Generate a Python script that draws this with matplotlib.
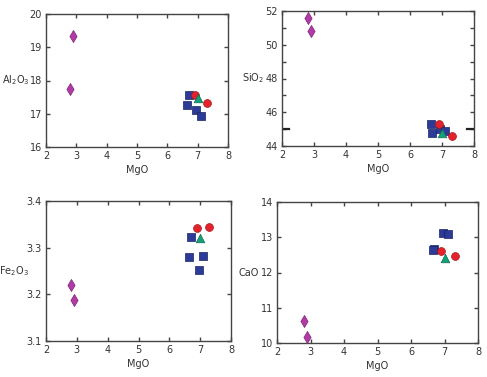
import matplotlib
matplotlib.use("Agg")
import matplotlib.pyplot as plt
from matplotlib.ticker import MultipleLocator

# MgO values (x) per sample group
dia_x = [2.8, 2.9]
sq_x = [6.7, 6.65, 6.95, 7.1]
cir_x = [6.9, 7.3]
tri_x = [7.0]

# oxide values (y) per panel and group
al_dia = [17.75, 19.35]
al_sq = [17.57, 17.27, 17.12, 16.94]
al_cir = [17.57, 17.33]
al_tri = [17.46]

si_dia = [51.6, 50.8]
si_sq = [44.75, 45.3, 45.02, 44.86]
si_cir = [45.3, 44.6]
si_tri = [44.78]

fe_dia = [3.221, 3.188]
fe_sq = [3.323, 3.279, 3.253, 3.282]
fe_cir = [3.342, 3.344]
fe_tri = [3.321]

ca_dia = [10.63, 10.16]
ca_sq = [12.66, 12.64, 13.13, 13.08]
ca_cir = [12.60, 12.47]
ca_tri = [12.42]

W, H = 487, 377
fig = plt.figure(figsize=(W / 100, H / 100), dpi=100)


def box(l, r, t, b):
    return [l / W, 1 - b / H, (r - l) / W, (b - t) / H]


panels = [
    (box(46, 228, 14, 147), "Al$_2$O$_3$", al_dia, al_sq, al_cir, al_tri, (16, 20), 1, None),
    (box(282, 474, 11, 146), "SiO$_2$", si_dia, si_sq, si_cir, si_tri, (44, 52), 2, 1),
    (box(46, 231, 201, 341), "Fe$_2$O$_3$", fe_dia, fe_sq, fe_cir, fe_tri, (3.1, 3.4), 0.1, None),
    (box(277, 478, 202, 343), "CaO", ca_dia, ca_sq, ca_cir, ca_tri, (10, 14), 1, None),
]

edge = "#444444"
txt = "#333333"
for pos, lab, yd, ys, yc, yt, ylim, major, minor in panels:
    ax = fig.add_axes(pos)
    ax.scatter(dia_x, yd, marker="d", s=38, c="#b23aa6", edgecolors="#7a2a75", linewidths=0.5, zorder=3)
    ax.scatter(sq_x, ys, marker="s", s=40, c="#2d3b98", edgecolors="#1a2260", linewidths=0.5, zorder=3)
    ax.scatter(cir_x, yc, marker="o", s=32, c="#e5222b", edgecolors="#a01820", linewidths=0.5, zorder=4)
    ax.scatter(tri_x, yt, marker="^", s=38, c="#16a07a", edgecolors="#0d6a50", linewidths=0.5, zorder=4)
    ax.set_xlim(2, 8)
    ax.set_ylim(*ylim)
    ax.xaxis.set_major_locator(MultipleLocator(1))
    ax.yaxis.set_major_locator(MultipleLocator(major))
    if minor:
        ax.yaxis.set_minor_locator(MultipleLocator(minor))
        ax.tick_params(which="minor", direction="in", left=True, right=True, length=3, width=1, color=edge)
    ax.tick_params(which="major", direction="in", top=True, right=True, length=3, width=1,
                   color=edge, labelsize=7, pad=3, labelcolor=txt)
    for sp in ax.spines.values():
        sp.set_color(edge)
        sp.set_linewidth(1)
    ax.set_xlabel("MgO", fontsize=7, labelpad=3, color=txt)
    ax.set_ylabel(lab, fontsize=7, rotation=0, ha="right", va="center", color=txt)
    ax.yaxis.set_label_coords(-0.09, 0.5)
    if minor:
        # the heavier tick at 45 seen in the original
        ax.plot([0.0, 0.035], [45, 45], transform=ax.get_yaxis_transform(), color="#222222",
                lw=1.6, zorder=2)
        ax.plot([0.965, 1.0], [45, 45], transform=ax.get_yaxis_transform(), color="#222222",
                lw=1.6, zorder=2)

fig.savefig("out.png", dpi=100)
